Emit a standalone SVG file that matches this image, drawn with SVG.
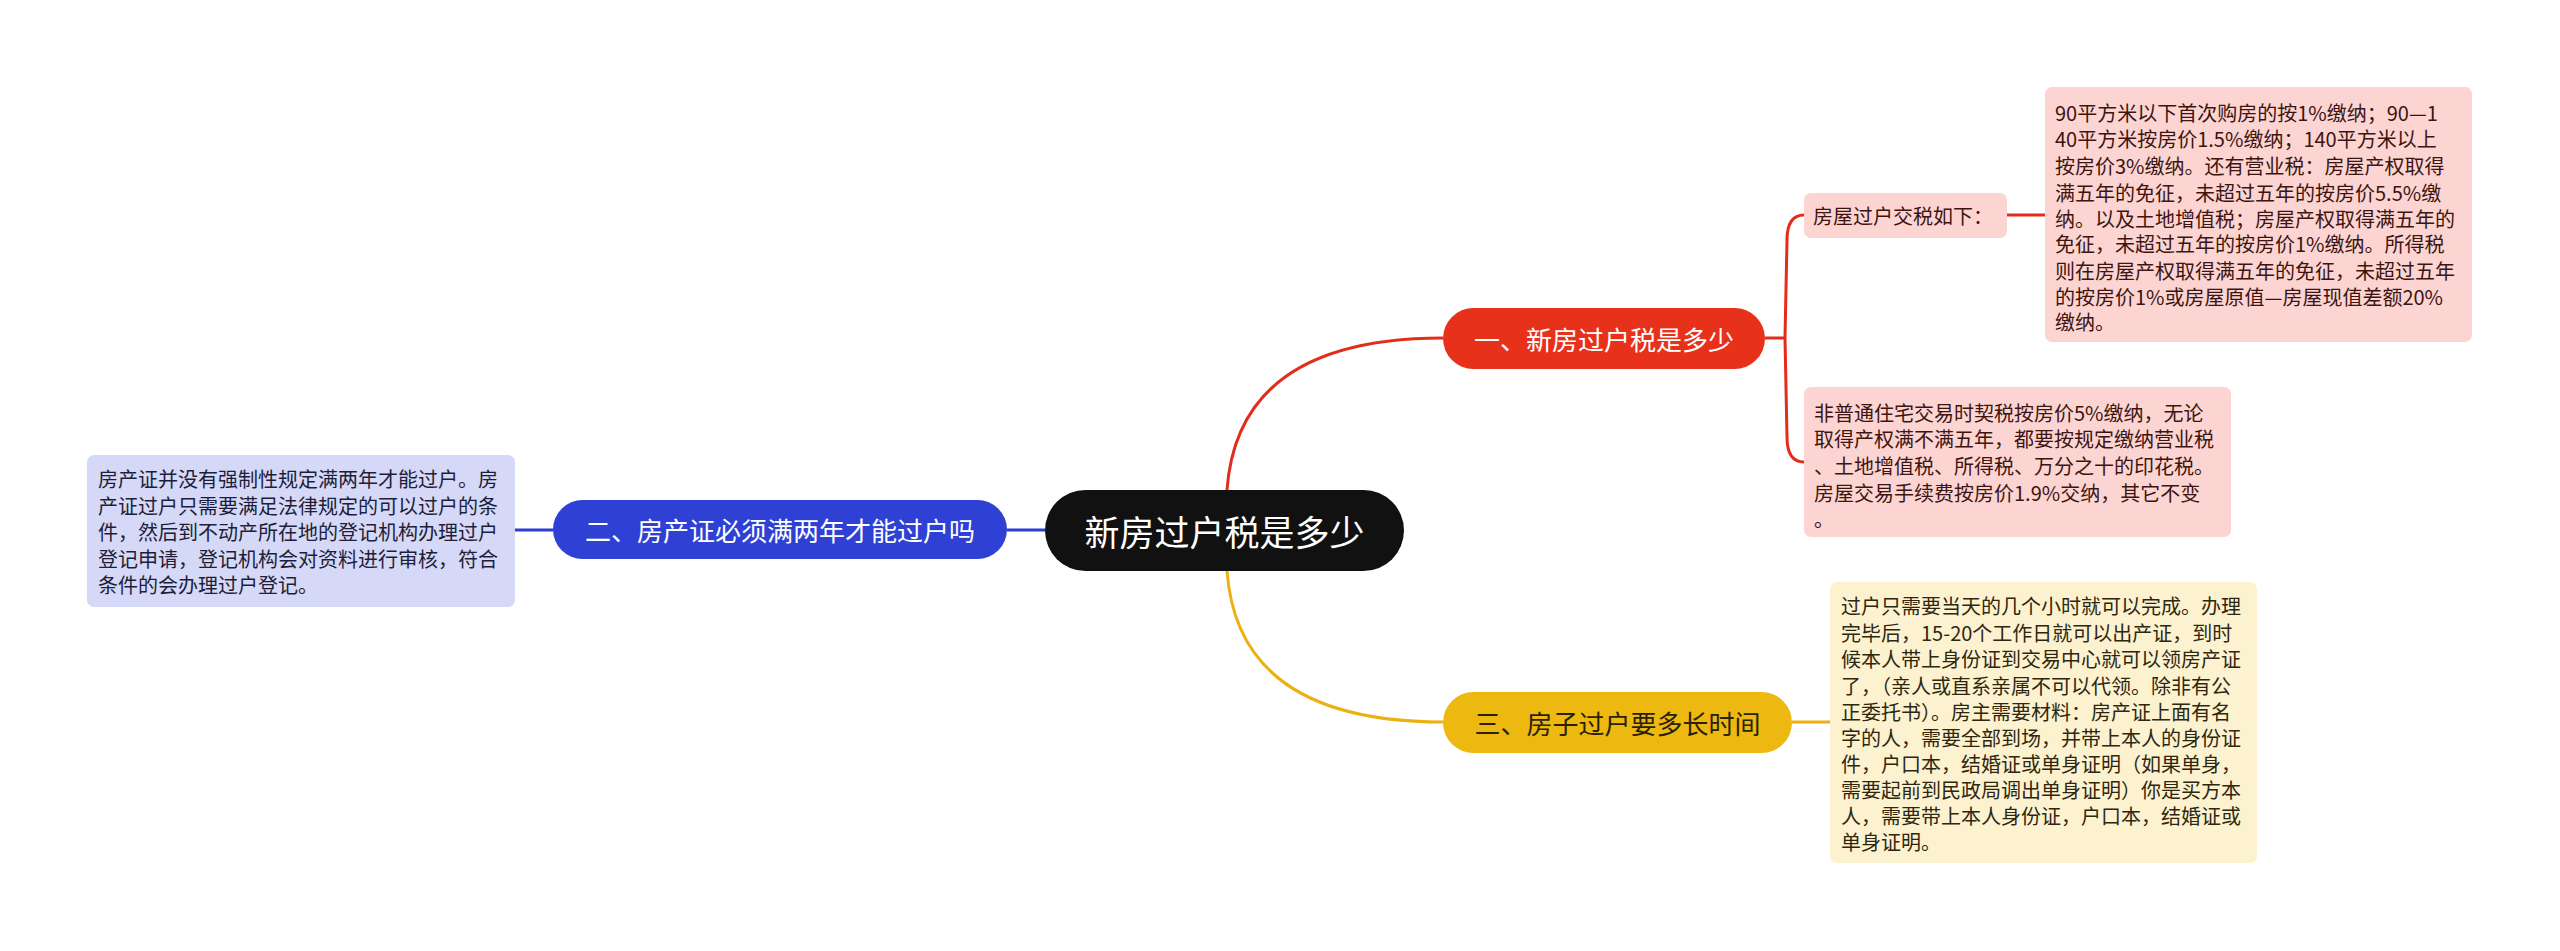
<svg xmlns="http://www.w3.org/2000/svg" width="2560" height="951" viewBox="0 0 2560 951">
<style>
text{font-family:"Noto Sans CJK SC","Noto Sans",sans-serif;dominant-baseline:central}
.main{fill:#fff;font-size:35px;text-anchor:middle}
.br{font-size:26px;text-anchor:middle}
.leaf{font-size:20px}
.con{fill:none;stroke-width:3}
</style>
<rect width="2560" height="951" fill="#fff"/>
<g id="connectors">
<path class="con" stroke="#E22D1B" d="M1227,490 Q1238,338 1443,338"/>
<path class="con" stroke="#EBB012" d="M1227,571 Q1238,722 1443,722"/>
<path class="con" stroke="#2B3FCF" d="M1007,530 L1045,530 M515,530 L553,530"/>
<path class="con" stroke="#E22D1B" d="M1765,338 L1786,338 M1804,215 Q1787,215 1787,240 L1785,338 L1787,437 Q1787,462 1804,462 M2007,215 L2045,215"/>
<path class="con" stroke="#EBB012" d="M1792,722 L1830,722"/>
</g>
<g id="center">
<rect x="1045" y="490" width="359" height="81" rx="40.5" fill="#111"/>
<text class="main" x="1224.5" y="530">新房过户税是多少</text>
</g>
<g id="branch1">
<rect x="1443" y="308" width="322" height="61" rx="30.5" fill="#E8311B"/>
<text class="br" x="1604" y="338.5" fill="#fff">一、新房过户税是多少</text>
</g>
<g id="branch2">
<rect x="553" y="500" width="454" height="59" rx="29.5" fill="#2E41D4"/>
<text class="br" x="780" y="529.5" fill="#fff">二、房产证必须满两年才能过户吗</text>
</g>
<g id="branch3">
<rect x="1443" y="692" width="349" height="61" rx="30.5" fill="#EDB80F"/>
<text class="br" x="1617.5" y="722.5" fill="#2a2208">三、房子过户要多长时间</text>
</g>
<g id="leaf1a">
<rect x="1804" y="193" width="203" height="45" rx="7" fill="#FCD4D2"/>
<text class="leaf" x="1813" y="215.5" fill="#3d1410">房屋过户交税如下：</text>
</g>
<g id="leaf1a-detail">
<rect x="2045" y="87" width="427" height="255" rx="7" fill="#FCD4D2"/>
<text class="leaf" fill="#3d1410">
<tspan x="2055" y="111.7">90平方米以下首次购房的按1%缴纳；90—1</tspan>
<tspan x="2055" y="138.3">40平方米按房价1.5%缴纳；140平方米以上</tspan>
<tspan x="2055" y="165">按房价3%缴纳。还有营业税：房屋产权取得</tspan>
<tspan x="2055" y="191.7">满五年的免征，未超过五年的按房价5.5%缴</tspan>
<tspan x="2055" y="217.5">纳。以及土地增值税；房屋产权取得满五年的</tspan>
<tspan x="2055" y="243.3">免征，未超过五年的按房价1%缴纳。所得税</tspan>
<tspan x="2055" y="270">则在房屋产权取得满五年的免征，未超过五年</tspan>
<tspan x="2055" y="296">的按房价1%或房屋原值—房屋现值差额20%</tspan>
<tspan x="2055" y="321">缴纳。</tspan>
</text>
</g>
<g id="leaf1b">
<rect x="1804" y="387" width="427" height="150" rx="7" fill="#FCD4D2"/>
<text class="leaf" fill="#3d1410">
<tspan x="1814" y="411.7">非普通住宅交易时契税按房价5%缴纳，无论</tspan>
<tspan x="1814" y="438.3">取得产权满不满五年，都要按规定缴纳营业税</tspan>
<tspan x="1814" y="465">、土地增值税、所得税、万分之十的印花税。</tspan>
<tspan x="1814" y="491.7">房屋交易手续费按房价1.9%交纳，其它不变</tspan>
<tspan x="1814" y="518.3">。</tspan>
</text>
</g>
<g id="leaf2">
<rect x="87" y="455" width="428" height="152" rx="7" fill="#D5D8F6"/>
<text class="leaf" fill="#1c1e3a">
<tspan x="98" y="478">房产证并没有强制性规定满两年才能过户。房</tspan>
<tspan x="98" y="504.5">产证过户只需要满足法律规定的可以过户的条</tspan>
<tspan x="98" y="531">件，然后到不动产所在地的登记机构办理过户</tspan>
<tspan x="98" y="557.5">登记申请，登记机构会对资料进行审核，符合</tspan>
<tspan x="98" y="584">条件的会办理过户登记。</tspan>
</text>
</g>
<g id="leaf3">
<rect x="1830" y="582" width="427" height="281" rx="7" fill="#FDF2CF"/>
<text class="leaf" fill="#2e2710">
<tspan x="1841" y="605">过户只需要当天的几个小时就可以完成。办理</tspan>
<tspan x="1841" y="631.5">完毕后，15-20个工作日就可以出产证，到时</tspan>
<tspan x="1841" y="658">候本人带上身份证到交易中心就可以领房产证</tspan>
<tspan x="1841" y="684.5">了，（亲人或直系亲属不可以代领。除非有公</tspan>
<tspan x="1841" y="711">正委托书）。房主需要材料：房产证上面有名</tspan>
<tspan x="1841" y="737">字的人，需要全部到场，并带上本人的身份证</tspan>
<tspan x="1841" y="763">件，户口本，结婚证或单身证明（如果单身，</tspan>
<tspan x="1841" y="789">需要起前到民政局调出单身证明）你是买方本</tspan>
<tspan x="1841" y="815">人，需要带上本人身份证，户口本，结婚证或</tspan>
<tspan x="1841" y="841">单身证明。</tspan>
</text>
</g>
</svg>
